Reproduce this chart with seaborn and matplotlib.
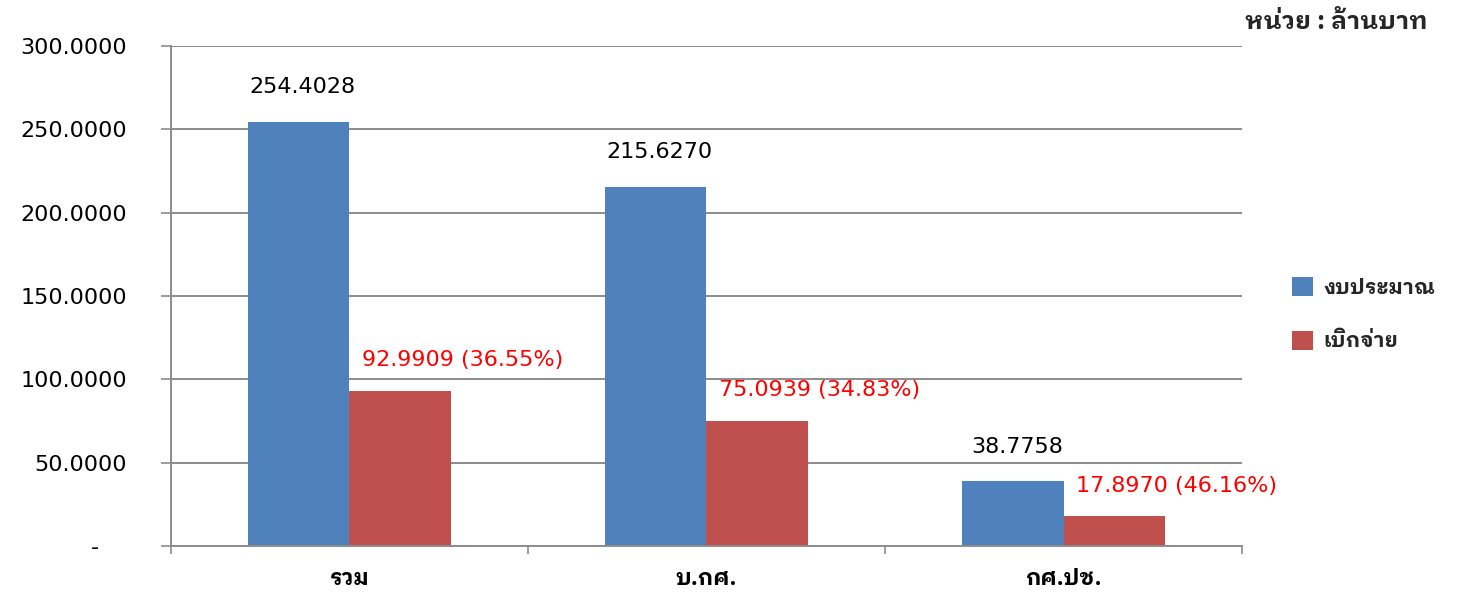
import matplotlib
matplotlib.use("Agg")
import matplotlib.pyplot as plt
from matplotlib.patches import Patch
from matplotlib.ticker import FixedLocator
import seaborn as sns
import pandas as pd

categories = ["รวม", "บ.กศ.", "กศ.ปช."]
series_names = ["งบประมาณ", "เบิกจ่าย"]
budget = [254.4028, 215.6270, 38.7758]
spent = [92.9909, 75.0939, 17.8970]
spent_pct = [36.55, 34.83, 46.16]
unit_text = "หน่วย : ล้านบาท"
y_ticks = [0, 50, 100, 150, 200, 250, 300]

BLUE = "#4F81BD"
RED = "#C0504D"

sns.set_theme(style="white")
plt.rcParams["font.family"] = ["DejaVu Sans", "IBM Plex Sans Thai Looped"]
THAI = ["IBM Plex Sans Thai Looped", "DejaVu Sans"]

df = pd.DataFrame({
    "cat": categories * 2,
    "value": budget + spent,
    "series": [series_names[0]] * 3 + [series_names[1]] * 3,
})

fig = plt.figure(figsize=(14.6, 6.05), dpi=100)
ax = fig.add_axes([0.1171, 0.0975, 0.7336, 0.8265])
sns.barplot(data=df, x="cat", y="value", hue="series", order=categories,
            hue_order=series_names, palette=[BLUE, RED], width=0.57,
            gap=0, saturation=1, ax=ax, legend=False, errorbar=None,
            edgecolor="none", linewidth=0)

ax.set_xlim(-0.5, 2.5)
ax.set_ylim(0, 300)
ax.set_xlabel("")
ax.set_ylabel("")

GRID = "#8C8C8C"
FS = 16
ax.set_yticks(y_ticks)
ax.set_yticklabels(["-    "] + [f"{v:.4f}" for v in y_ticks[1:]], fontsize=FS)
ax.yaxis.grid(True, color=GRID, linewidth=1.4)
ax.set_axisbelow(True)
ax.tick_params(axis="y", which="major", length=7.5, width=1.2, color=GRID,
               pad=24, left=True, labelcolor="black")
ax.tick_params(axis="x", which="major", length=0, pad=16, labelcolor="black")
for lab in ax.get_xticklabels():
    lab.set_fontweight("bold")
    lab.set_fontsize(16)
    lab.set_family(THAI)
ax.xaxis.set_minor_locator(FixedLocator([-0.5, 0.5, 1.5, 2.5]))
ax.tick_params(axis="x", which="minor", length=6, width=1.2, color=GRID,
               direction="out", bottom=True)

for s in ["top", "right"]:
    ax.spines[s].set_visible(False)
for s in ["left", "bottom"]:
    ax.spines[s].set_color(GRID)
    ax.spines[s].set_linewidth(1.4)

blue_bars = ax.containers[0]
red_bars = ax.containers[1]
for p, v in zip(blue_bars, budget):
    ax.annotate(f"{v:.4f}", xy=(p.get_x() + p.get_width() / 2, p.get_height()),
                xytext=(3, 25), textcoords="offset points", ha="center",
                va="center", fontsize=FS, color="black")
for p, v, pc in zip(red_bars, spent, spent_pct):
    ax.annotate(f"{v:.4f} ({pc:.2f}%)", xy=(p.get_x(), p.get_height()),
                xytext=(9, 22), textcoords="offset points", ha="left",
                va="center", fontsize=FS, color="#FF0000")

handles = [Patch(facecolor=BLUE, edgecolor="none"),
           Patch(facecolor=RED, edgecolor="none")]
fig.legend(handles, series_names, loc="upper left",
           bbox_to_anchor=(0.872, 0.573), frameon=False,
           handlelength=1.0, handleheight=1.0, handletextpad=0.5,
           labelspacing=1.6, prop={"weight": "bold", "size": 15,
                                   "family": THAI})

fig.text(0.978, 0.963, unit_text, ha="right", va="center", fontsize=18,
         fontweight="bold", family=THAI)

fig.savefig("out.png", dpi=100, facecolor="white")
